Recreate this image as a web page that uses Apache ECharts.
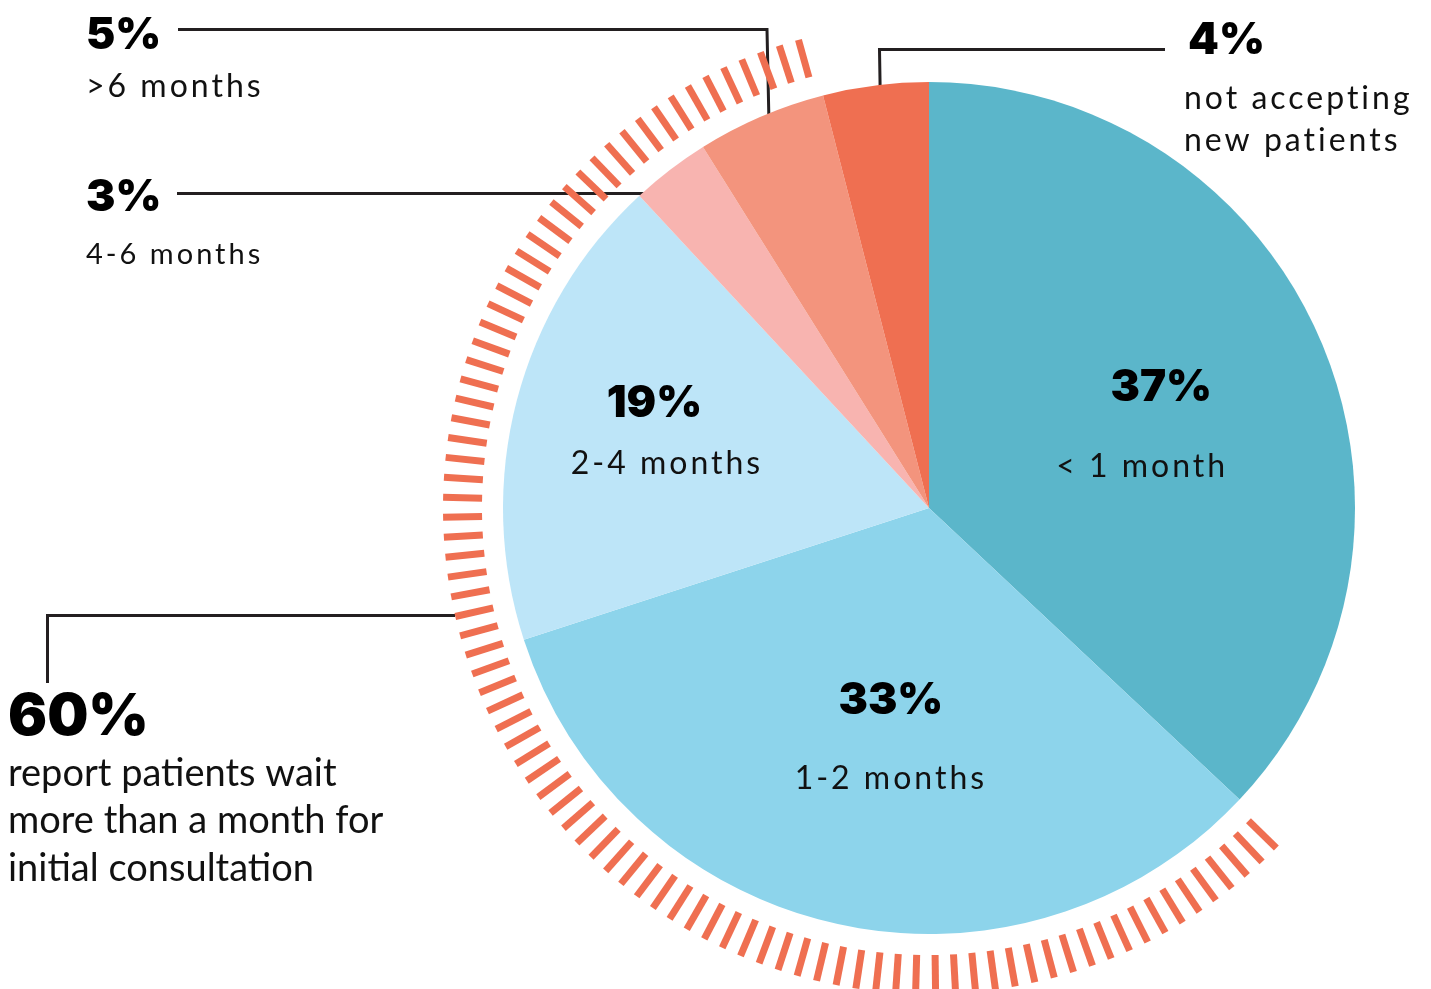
<!DOCTYPE html>
<html>
<head>
<meta charset="utf-8">
<script src="https://cdn.jsdelivr.net/npm/echarts@6/dist/echarts.min.js"></script>
<style>
  html, body { margin: 0; padding: 0; background: #ffffff; }
  #main { width: 1431px; height: 989px; }
</style>
</head>
<body>
<div id="main"></div>
<script>
// ---------------- data ----------------
const categories = ['< 1 month', '1-2 months', '2-4 months', '4-6 months', '>6 months', 'not accepting new patients'];
const shares = [37, 33, 18.1, 3, 4.9, 4];          // slice sizes
const shownPct = [37, 33, 19, 3, 5, 4];            // percentages printed on the chart
const waitOverMonthPct = 60;                       // summary figure
const waitOverMonthText = 'report patients wait\nmore than a month for\ninitial consultation';
const sliceColors = ['#5BB6CA', '#8DD4EB', '#BDE5F8', '#F8B4B0', '#F3947D', '#EF6F51'];
const tickColor = '#EF6F51';
const lineColor = '#231F20';

// letter spacing helper: a "trackN" family marker in a font gives N px tracking
(function () {
  const proto = CanvasRenderingContext2D.prototype;
  const desc = Object.getOwnPropertyDescriptor(proto, 'font');
  if (!desc || !('letterSpacing' in proto)) return;
  Object.defineProperty(proto, 'font', {
    configurable: true,
    get: function () { return desc.get.call(this); },
    set: function (v) {
      const m = /track(\d+)/.exec(String(v));
      this.letterSpacing = m ? m[1] + 'px' : '0px';
      desc.set.call(this, v);
    }
  });
})();

const PCT_FONT = 'Inter, Lato';
const SUB_FONT = 'Lato, track3';

const chart = echarts.init(document.getElementById('main'), null, { renderer: 'canvas' });

const center = [929, 508];
const pieRadius = 426;

// ring of ticks spanning the ">1 month" slices (indices 1..4)
const total = shares.reduce((a, b) => a + b, 0);
const cumStart = shares[0] / total * 360;
const cumEnd = (total - shares[5]) / total * 360;
const tickCount = 90;
const cell = (cumEnd - cumStart) / tickCount;
const firstTick = cumStart + cell / 2;
const lastTick = cumEnd - cell / 2;

const insideRich = {
  p0: { fontFamily: PCT_FONT, fontWeight: 900, fontSize: 44, color: '#000', lineHeight: 96, padding: [0, 0, 0, 38] },
  p1: { fontFamily: PCT_FONT, fontWeight: 900, fontSize: 44, color: '#000', lineHeight: 95 },
  p2: { fontFamily: PCT_FONT, fontWeight: 900, fontSize: 44, color: '#000', lineHeight: 60, padding: [0, 25, 0, 0] },
  s: { fontFamily: SUB_FONT, fontSize: 32, color: '#111', lineHeight: 60 }
};
const insideShift = [[15, -4], [9, 12], [-53, -20]];

const option = {
  animation: false,
  backgroundColor: '#ffffff',
  series: [
    {
      type: 'pie',
      center: center,
      radius: pieRadius,
      startAngle: 90,
      clockwise: true,
      silent: true,
      avoidLabelOverlap: false,
      itemStyle: { borderWidth: 0 },
      emphasis: { disabled: true },
      labelLine: { show: false },
      label: {
        show: true,
        position: 'inside',
        color: '#000',
        textBorderWidth: 0,
        formatter: function (p) {
          return '{p' + p.dataIndex + '|' + shownPct[p.dataIndex] + '%}\n{s|' + categories[p.dataIndex] + '}';
        },
        rich: insideRich
      },
      labelLayout: function (p) {
        const s = insideShift[p.dataIndex];
        return s ? { dx: s[0], dy: s[1] } : {};
      },
      data: categories.map((c, i) => ({
        name: c,
        value: shares[i],
        itemStyle: { color: sliceColors[i] },
        label: { show: i < 3 }
      }))
    },
    {
      type: 'gauge',
      center: center,
      radius: 486,
      startAngle: 90 - firstTick,
      endAngle: 90 - lastTick,
      clockwise: true,
      min: 0,
      max: 100,
      splitNumber: 1,
      silent: true,
      axisLine: { show: false, lineStyle: { width: 0 } },
      progress: { show: false },
      splitLine: { show: false },
      axisLabel: { show: false },
      pointer: { show: false },
      anchor: { show: false },
      title: { show: false },
      detail: { show: false },
      axisTick: {
        show: true,
        splitNumber: tickCount - 1,
        length: 39,
        distance: 0,
        lineStyle: { color: tickColor, width: 7, cap: 'butt' }
      },
      data: [{ value: waitOverMonthPct, name: '' }]
    }
  ],
  graphic: [
    // leader lines
    { type: 'polyline', silent: true, shape: { points: [[178, 29.5], [767, 29.5], [770, 171]] }, style: { stroke: lineColor, lineWidth: 3, fill: null } },
    { type: 'polyline', silent: true, shape: { points: [[177, 193.5], [675, 193.5]] }, style: { stroke: lineColor, lineWidth: 3, fill: null } },
    { type: 'polyline', silent: true, shape: { points: [[1165, 49.5], [879.5, 49.5], [880.5, 110]] }, style: { stroke: lineColor, lineWidth: 3, fill: null } },
    { type: 'polyline', silent: true, shape: { points: [[455, 615.5], [47.5, 615.5], [47.5, 683]] }, style: { stroke: lineColor, lineWidth: 3, fill: null } },
    // outer labels
    { type: 'text', silent: true, style: { text: shownPct[4] + '%', x: 86, y: 35.5, fontFamily: PCT_FONT, fontWeight: 900, fontSize: 44, fill: '#000', align: 'left', verticalAlign: 'middle' } },
    { type: 'text', silent: true, style: { text: categories[4], x: 86, y: 86.6, fontFamily: SUB_FONT, fontSize: 32, fill: '#111', align: 'left', verticalAlign: 'middle' } },
    { type: 'text', silent: true, style: { text: shownPct[3] + '%', x: 86, y: 198, fontFamily: PCT_FONT, fontWeight: 900, fontSize: 44, fill: '#000', align: 'left', verticalAlign: 'middle' } },
    { type: 'text', silent: true, style: { text: categories[3], x: 86, y: 254.2, fontFamily: SUB_FONT, fontSize: 29, fill: '#111', align: 'left', verticalAlign: 'middle' } },
    { type: 'text', silent: true, style: { text: shownPct[5] + '%', x: 1188, y: 40.5, fontFamily: PCT_FONT, fontWeight: 900, fontSize: 44, fill: '#000', align: 'left', verticalAlign: 'middle' } },
    { type: 'text', silent: true, style: { text: categories[5].replace('accepting ', 'accepting\n'), x: 1184, y: 77.6, lineHeight: 42, fontFamily: SUB_FONT, fontSize: 32, fill: '#111', align: 'left', verticalAlign: 'top' } },
    { type: 'text', silent: true, style: { text: waitOverMonthPct + '%', x: 8, y: 718, fontFamily: PCT_FONT, fontWeight: 900, fontSize: 58, fill: '#000', align: 'left', verticalAlign: 'middle' } },
    { type: 'text', silent: true, style: { text: waitOverMonthText, x: 8, y: 749.5, lineHeight: 47.5, fontFamily: 'Lato', fontSize: 38, fill: '#111', align: 'left', verticalAlign: 'top' } }
  ]
};

chart.setOption(option);
</script>
</body>
</html>
